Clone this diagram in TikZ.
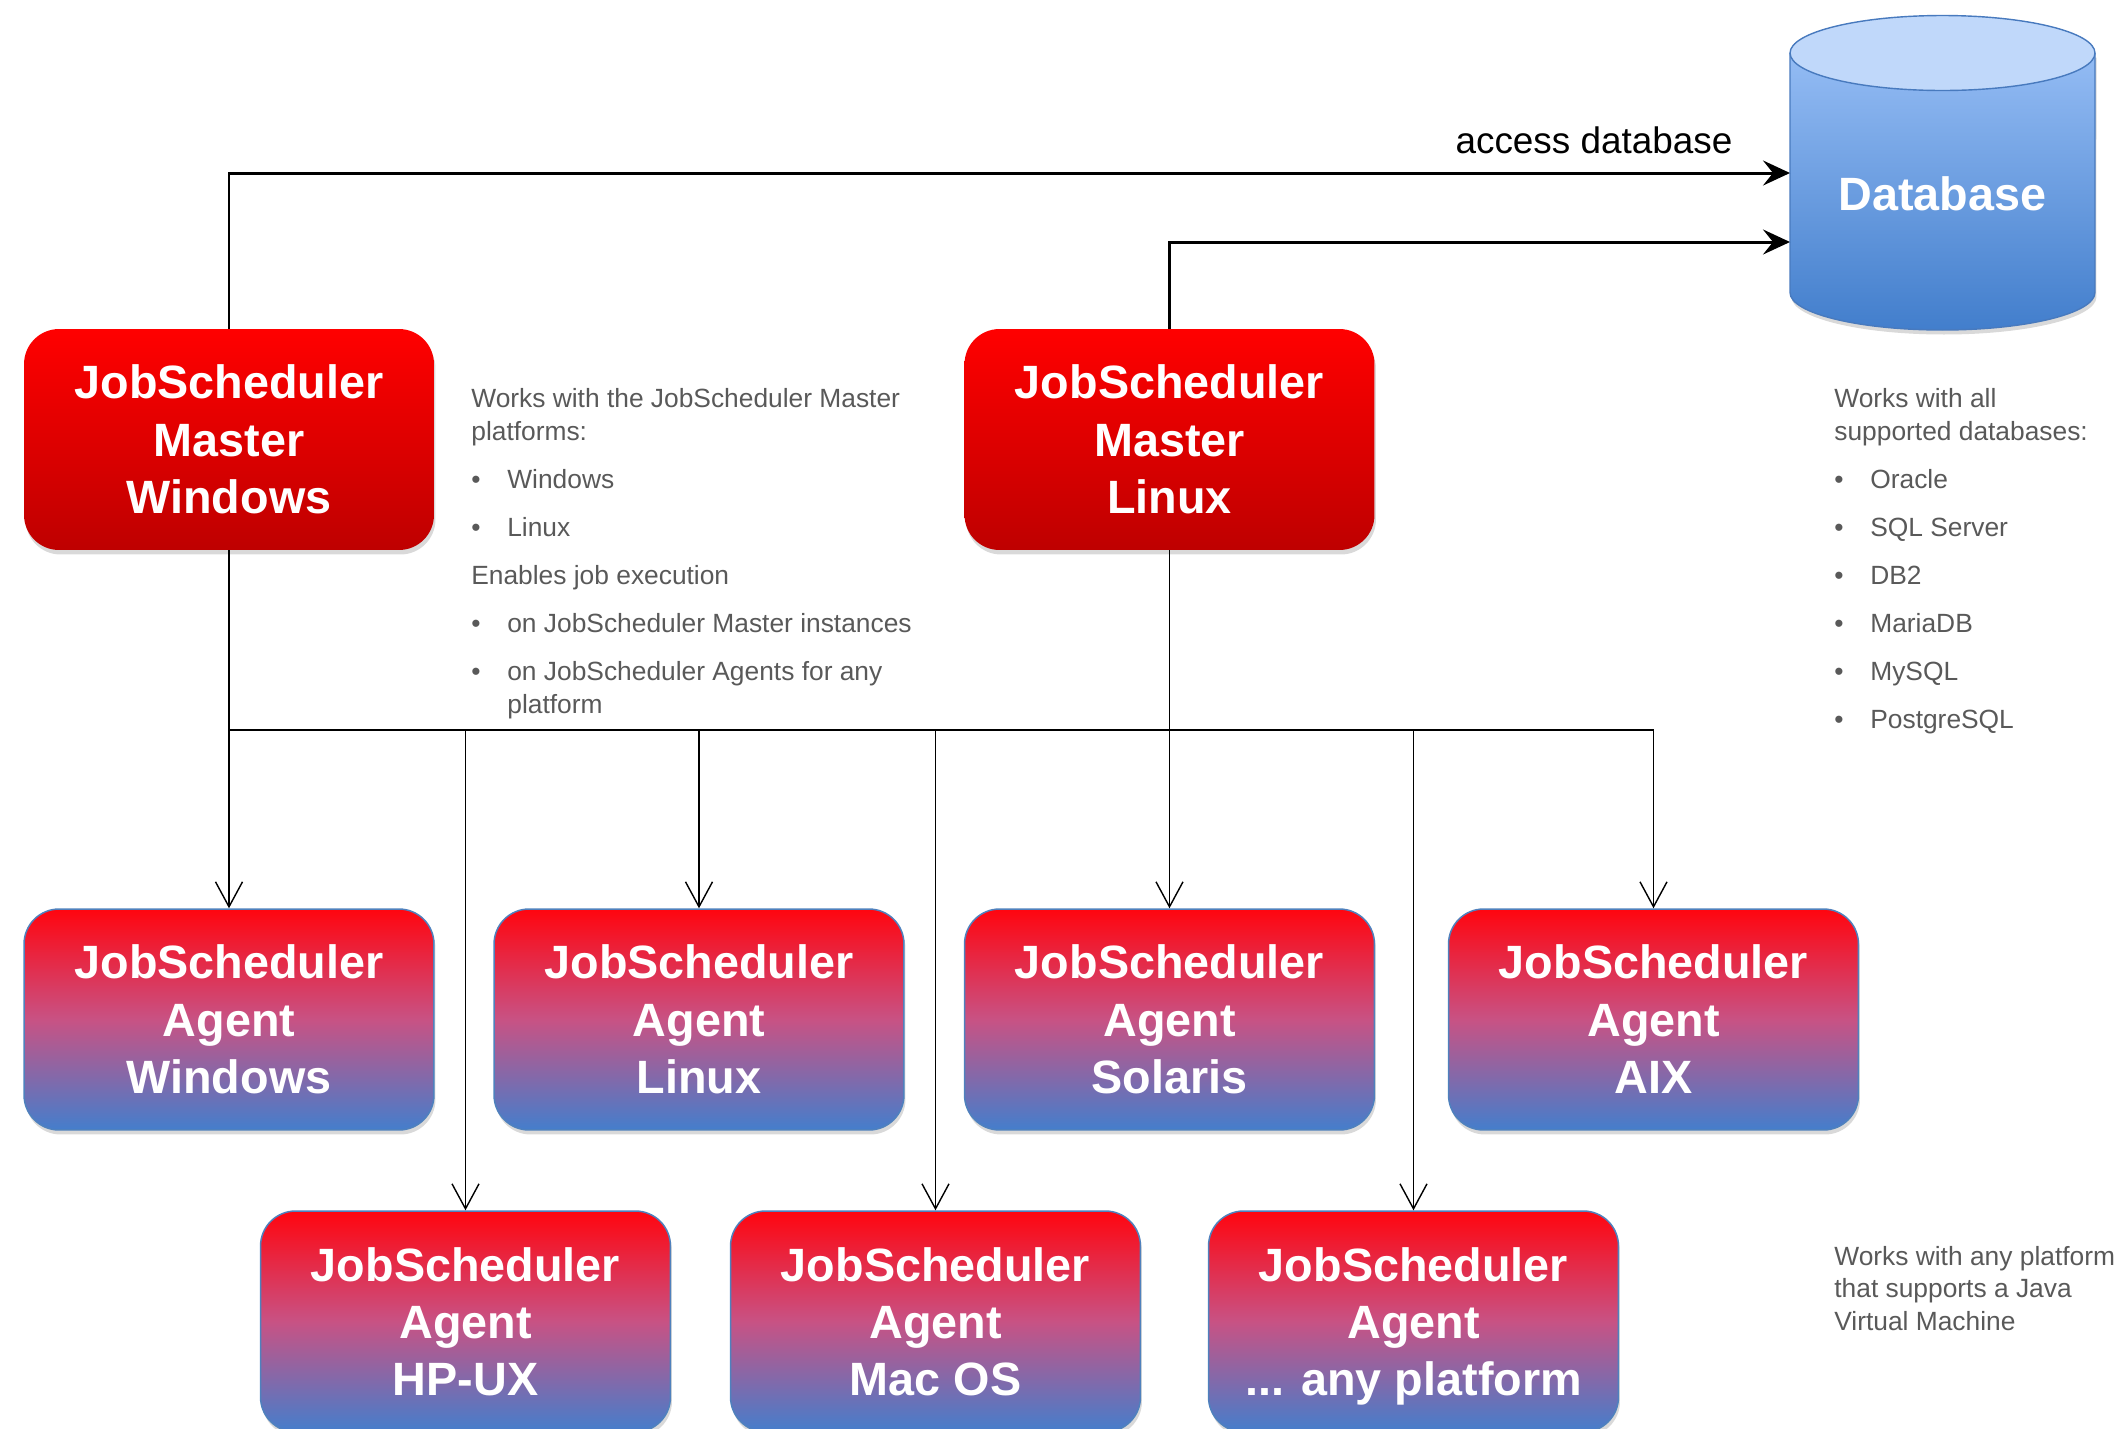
\documentclass[tikz,border=0pt]{standalone}
\usepackage{fontspec}
\setmainfont{Liberation Sans}
\usetikzlibrary{arrows.meta,positioning,shadows}
\definecolor{masterTop}{RGB}{255,0,0}
\definecolor{masterBot}{RGB}{190,0,0}
\definecolor{agentTop}{RGB}{255,5,15}
\definecolor{agentMid}{RGB}{200,82,132}
\definecolor{agentBot}{RGB}{68,126,204}
\definecolor{agentLine}{RGB}{79,129,189}
\definecolor{noteGray}{RGB}{89,89,89}
\definecolor{dbTop}{RGB}{192,216,250}
\definecolor{dbBodyTop}{RGB}{148,188,244}
\definecolor{dbBodyBot}{RGB}{66,126,204}
\definecolor{dbLine}{RGB}{72,122,190}
\newcommand{\boxfont}{\fontsize{26.6pt}{32.7pt}\selectfont\bfseries}
\newcommand{\notefont}{\fontsize{15pt}{18.8pt}\selectfont}
\newcommand{\bitem}[1]{\makebox[0.72cm][l]{\textbullet}#1}

\begin{document}
\begin{tikzpicture}[
      x=0.02cm, y=-0.02cm,
      jsbox/.style={rounded corners=0.7cm, minimum width=8.2cm, minimum height=4.42cm,
        inner sep=0pt, align=center, text=white, font=\boxfont, text depth=-0.1cm,
        drop shadow={opacity=0.3, shadow xshift=0.03cm, shadow yshift=-0.09cm}},
      master/.style={jsbox, top color=masterTop, bottom color=masterBot},
      agent/.style={jsbox, top color=agentTop, bottom color=agentBot, middle color=agentMid,
        draw=agentLine, line width=0.85pt},
      note/.style={anchor=north west, inner sep=0pt, align=left, text=noteGray, font=\notefont},
      flow/.style={draw, line width=0.8pt, -{Straight Barb[length=0.5cm, width=0.54cm]}},
      bus/.style={draw, line width=0.8pt},
      dbarrow/.style={draw, line width=1.7pt, -{Stealth[length=0.54cm, width=0.5cm, inset=0.2cm]}}
  ]
  \useasboundingbox (0,0) rectangle (2124,1428);

  % masters
  \node[master] (mwin) at (229,439.5) {JobScheduler\\Master\\Windows};
  \node[master] (mlin) at (1169.5,439.5) {JobScheduler\\Master\\Linux};

  % agents
  \node[agent] (awin) at (229,1019.5) {JobScheduler\\Agent\\Windows};
  \node[agent] (alin) at (699,1019.5) {JobScheduler\\Agent\\Linux};
  \node[agent] (asol) at (1169.5,1019.5) {JobScheduler\\Agent\\Solaris};
  \node[agent] (aaix) at (1653.5,1019.5) {JobScheduler\\Agent\\AIX};
  \node[agent] (ahp) at (465.5,1321.5) {JobScheduler\\Agent\\HP-UX};
  \node[agent] (amac) at (935.5,1321.5) {JobScheduler\\Agent\\Mac OS};
  \node[agent] (aany) at (1413.5,1321.5) {JobScheduler\\Agent\\... any platform};

  % database
  \shade[top color=dbBodyTop, bottom color=dbBodyBot,
    drop shadow={opacity=0.3, shadow xshift=0.03cm, shadow yshift=-0.09cm}]
    (1790,53) -- (1790,292.5) arc[start angle=180, end angle=360, x radius=3.05cm, y radius=0.75cm]
    -- (2095,53) -- cycle;
  \draw[dbLine, line width=0.8pt] (1790,53) -- (1790,292.5)
    arc[start angle=180, end angle=360, x radius=3.05cm, y radius=0.75cm] -- (2095,53);
  \filldraw[fill=dbTop, draw=dbLine, line width=0.8pt] (1942.5,53) ellipse[x radius=3.05cm, y radius=0.75cm];
  \node[font=\boxfont, text=white] (db) at (1942.5,194) {Database};
  \coordinate (dbin1) at (1790,173);
  \coordinate (dbin2) at (1790,242);

  \draw[dbarrow] (mwin.north) |- (dbin1);
  \draw[dbarrow] (mlin.north) |- (dbin2);
  \node[anchor=base, font=\fontsize{21pt}{25pt}\selectfont] (acc) at (1594,153) {access database};

  % master -> agents
  \coordinate (bus) at (0,730);
  \draw[flow] (mwin.south) -- (awin.north);
  \draw[flow] (mlin.south) -- (asol.north);
  \draw[bus] (mwin.south |- bus) -- (aaix.north |- bus);
  \foreach \a in {ahp,alin,amac,aany,aaix}
    \draw[flow] (\a.north |- bus) -- (\a.north);

  % notes
  \node[note] (mnote) at (471,388) {Works with the JobScheduler Master\\platforms:\\[8.5pt]
    \bitem{Windows}\\[8.5pt]\bitem{Linux}\\[8.5pt]Enables job execution\\[8.5pt]
    \bitem{on JobScheduler Master instances}\\[8.5pt]\bitem{on JobScheduler Agents for any}\\
    \hspace*{0.72cm}platform};
  \node[note] (dbnote) at (1834,388) {Works with all\\supported databases:\\[8.5pt]
    \bitem{Oracle}\\[8.5pt]\bitem{SQL Server}\\[8.5pt]\bitem{DB2}\\[8.5pt]
    \bitem{MariaDB}\\[8.5pt]\bitem{MySQL}\\[8.5pt]\bitem{PostgreSQL}};
  \node[note, font=\fontsize{15pt}{18.5pt}\selectfont] (jvmnote) at (1834,1246)
    {Works with any platform\\that supports a Java\\Virtual Machine};

\end{tikzpicture}
\end{document}
